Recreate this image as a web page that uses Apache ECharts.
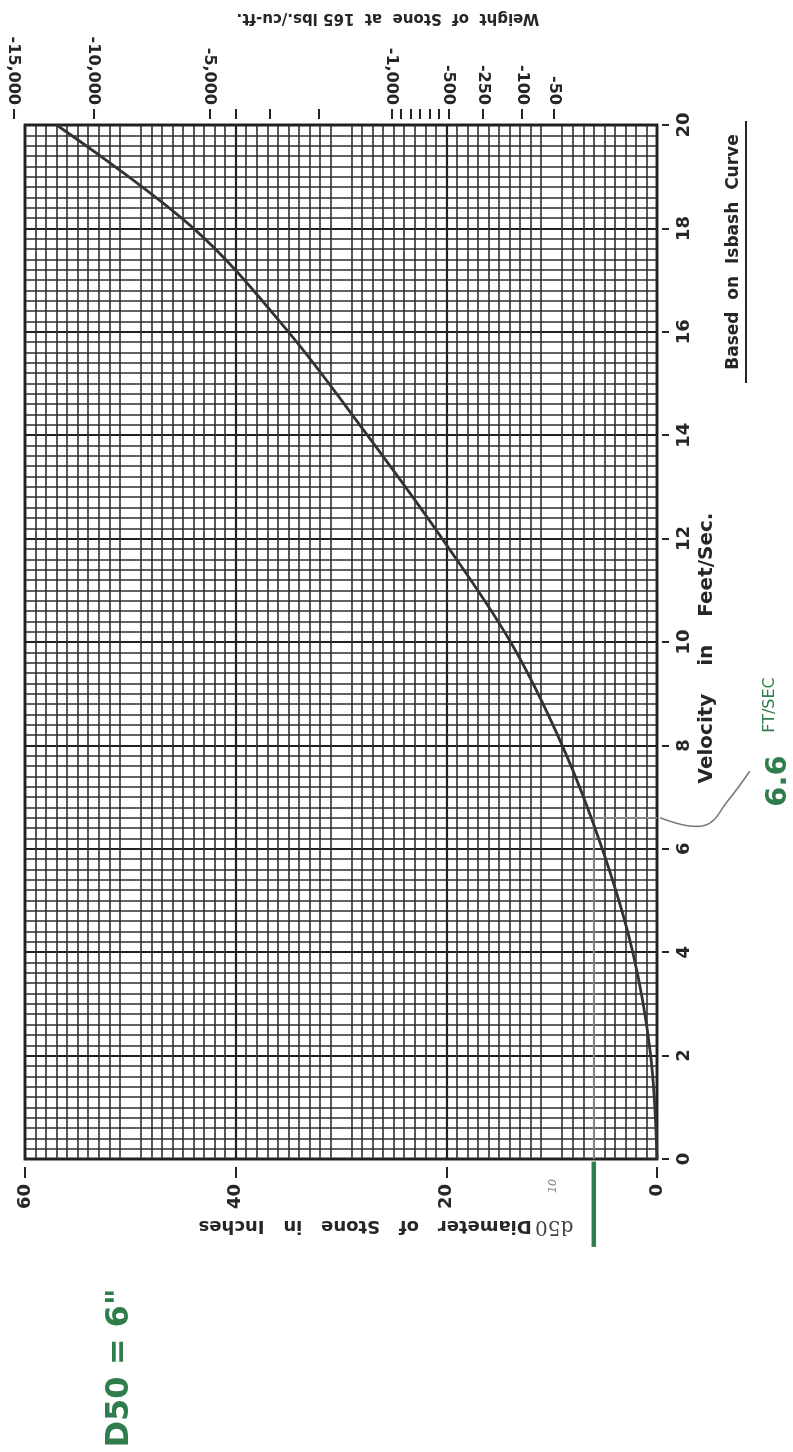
<!DOCTYPE html>
<html><head><meta charset="utf-8">
<script src="https://cdn.jsdelivr.net/npm/echarts@6/dist/echarts.min.js"></script>
<style>html,body{margin:0;padding:0;background:#fff}#c{width:793px;height:1452px}</style>
</head><body><div id="c"></div>
<script>
// ---- data ----
const velocityTicks = [0, 2, 4, 6, 8, 10, 12, 14, 16, 18, 20];
const diameterTicks = [0, 20, 40, 60];
// Isbash curve: stone diameter (in) against velocity (ft/s)
const curveVelocity = [0, 2, 4, 6, 8, 10, 12, 14, 16, 18, 20];
const curveDiameter = [0, 0.6, 2.3, 5.2, 9.0, 13.9, 20.4, 27.5, 35.0, 44.0, 57.0];
// weight scale (lbs) positioned along the diameter scale
const weightLabels = ['-15,000', '-10,000', '-5,000', '-1,000', '-500', '-250', '-100', '-50'];
const weightAtDiameter = [61.1, 53.5, 42.5, 25.2, 19.8, 16.5, 12.8, 9.8];
const weightMinorAtDiameter = [40.0, 36.8, 32.1, 24.3, 23.4, 22.5, 21.6, 20.7];
// hand-drawn design reading
const designVelocity = 6.6;
const designDiameter = 6.0;
// hand-drawn leader from the axis to the "6.6" note: [diameter, velocity]
const leaderPath = [[-0.3, 6.6], [-4.5, 6.45], [-6.8, 6.95], [-8.8, 7.5]];

// ---- layout ----
const W = 793, H = 1452;
const gL = 25, gR = 657, gT = 125, gB = 1159;
const pxPerIn = (gR - gL) / 60;
const weightMax = 61.5;
const grid2Left = gR - weightMax * pxPerIn;

const font = '"DejaVu Sans", "Liberation Sans", sans-serif';
const ink = '#262626';
const green = '#2f7d4c';

const chart = echarts.init(document.getElementById('c'), null, {renderer: 'canvas'});

const curveData = curveVelocity.map((v, i) => [curveDiameter[i], v]);
const weightMap = {};
weightAtDiameter.forEach((d, i) => { weightMap[d.toFixed(2)] = weightLabels[i]; });

const option = {
  backgroundColor: '#ffffff',
  animation: false,
  grid: [
    {left: gL, right: W - gR, top: gT, bottom: H - gB, show: true, borderColor: ink, borderWidth: 2.8, backgroundColor: '#fff'},
    {left: grid2Left, right: W - gR, top: gT, bottom: H - gB, show: false}
  ],
  xAxis: [
    {
      gridIndex: 0, type: 'value', min: 0, max: 60, interval: 10, inverse: true, position: 'bottom', offset: 8,
      axisLine: {show: false, onZero: false},
      axisTick: {show: true, customValues: diameterTicks, length: 11, lineStyle: {color: ink, width: 2}},
      axisLabel: {customValues: diameterTicks, rotate: 90, fontSize: 18, fontWeight: 'bold', color: ink, margin: 17, fontFamily: font},
      splitLine: {show: true, lineStyle: {color: '#222', width: 2.2}},
      minorTick: {show: false, splitNumber: 10},
      minorSplitLine: {show: true, lineStyle: {color: '#2e2e2e', width: 1.6}}
    },
    {
      gridIndex: 1, type: 'value', min: 0, max: weightMax, inverse: true, position: 'top', offset: 6,
      axisLine: {show: false, onZero: false},
      axisTick: {show: true, customValues: weightAtDiameter.concat(weightMinorAtDiameter), length: 10, lineStyle: {color: ink, width: 2}},
      axisLabel: {customValues: weightAtDiameter, rotate: 90, fontSize: 16, fontWeight: 'bold', color: ink, margin: 14, fontFamily: font,
        formatter: v => weightMap[Number(v).toFixed(2)] || ''},
      splitLine: {show: false}
    }
  ],
  yAxis: [
    {
      gridIndex: 0, type: 'value', min: 0, max: 20, interval: 2, position: 'right', offset: 5,
      axisLine: {show: false, onZero: false},
      axisTick: {show: true, length: 7, lineStyle: {color: ink, width: 2}},
      axisLabel: {rotate: 90, fontSize: 18, fontWeight: 'bold', color: ink, margin: 13, fontFamily: font},
      splitLine: {show: true, lineStyle: {color: '#222', width: 2.2}},
      minorTick: {show: false, splitNumber: 10},
      minorSplitLine: {show: true, lineStyle: {color: '#2e2e2e', width: 1.6}}
    },
    {gridIndex: 1, type: 'value', min: 0, max: 20, show: false}
  ],
  series: [
    {
      name: 'Isbash', type: 'line', xAxisIndex: 0, yAxisIndex: 0, data: curveData, smooth: 0.35,
      showSymbol: false, lineStyle: {color: '#333', width: 2.8}, z: 5
    },
    {
      name: 'reading', type: 'line', xAxisIndex: 0, yAxisIndex: 0,
      data: [[0, designVelocity], [designDiameter, designVelocity], [designDiameter, 0]],
      showSymbol: false, lineStyle: {color: '#8c8c8c', width: 1.8}, z: 4
    },
    {
      name: 'd50 mark', type: 'line', xAxisIndex: 0, yAxisIndex: 0, clip: false,
      data: [[designDiameter, -0.05], [designDiameter, -1.7]],
      showSymbol: false, lineStyle: {color: green, width: 4.5}, z: 6
    }
  ],
  graphic: [
    {type: 'text', x: 388, y: 18, rotation: Math.PI, silent: true,
      style: {text: 'Weight  of  Stone  at  165 lbs./cu-ft.', font: 'bold 15px ' + font, fill: ink, textAlign: 'center', textVerticalAlign: 'middle'}},
    {type: 'text', x: 707, y: 648, rotation: Math.PI / 2, silent: true,
      style: {text: 'Velocity    in    Feet/Sec.', font: 'bold 20px ' + font, fill: ink, textAlign: 'center', textVerticalAlign: 'middle'}},
    {type: 'group', x: 734, y: 252, rotation: Math.PI / 2, children: [
      {type: 'text', x: 0, y: 0, silent: true,
        style: {text: 'Based  on  Isbash  Curve', font: 'bold 17px ' + font, fill: ink, textAlign: 'center', textVerticalAlign: 'middle'}},
      {type: 'line', shape: {x1: -131, y1: 12, x2: 131, y2: 12}, style: {stroke: ink, lineWidth: 2}}
    ]},
    {type: 'text', x: 386, y: 1226, rotation: Math.PI, silent: true,
      style: {rich: {d: {font: '20px "DejaVu Serif", serif', fill: '#444'}, t: {font: 'bold 18px ' + font, fill: ink}},
        text: '{d|d50} {t|Diameter   of   Stone   in   Inches}', textAlign: 'center', textVerticalAlign: 'middle'}},
    {type: 'text', x: 553, y: 1186, rotation: Math.PI / 2, silent: true,
      style: {text: '10', font: 'italic 11px ' + font, fill: '#888', textAlign: 'center', textVerticalAlign: 'middle'}},
    {type: 'text', x: 778, y: 781, rotation: Math.PI / 2, silent: true,
      style: {text: '6.6', font: 'bold 29px ' + font, fill: green, textAlign: 'center', textVerticalAlign: 'middle'}},
    {type: 'text', x: 770, y: 705, rotation: Math.PI / 2, silent: true,
      style: {text: 'FT/SEC', font: '16px ' + font, fill: green, textAlign: 'center', textVerticalAlign: 'middle'}},
    {type: 'text', x: 120, y: 1368, rotation: Math.PI / 2, silent: true,
      style: {text: 'D50 = 6"', font: 'bold 32px ' + font, fill: green, textAlign: 'center', textVerticalAlign: 'middle'}}
  ]
};
chart.setOption(option);

// leader stroke placed through the chart's own scales
const leaderPts = leaderPath.map(p => chart.convertToPixel({xAxisIndex: 0, yAxisIndex: 0}, p));
const g = option.graphic.slice();
g.push({type: 'polyline', silent: true, z: 10, shape: {points: leaderPts, smooth: 0.4},
  style: {stroke: '#7a7a7a', lineWidth: 1.6, fill: null}});
chart.setOption({graphic: g});
</script>
</body></html>
